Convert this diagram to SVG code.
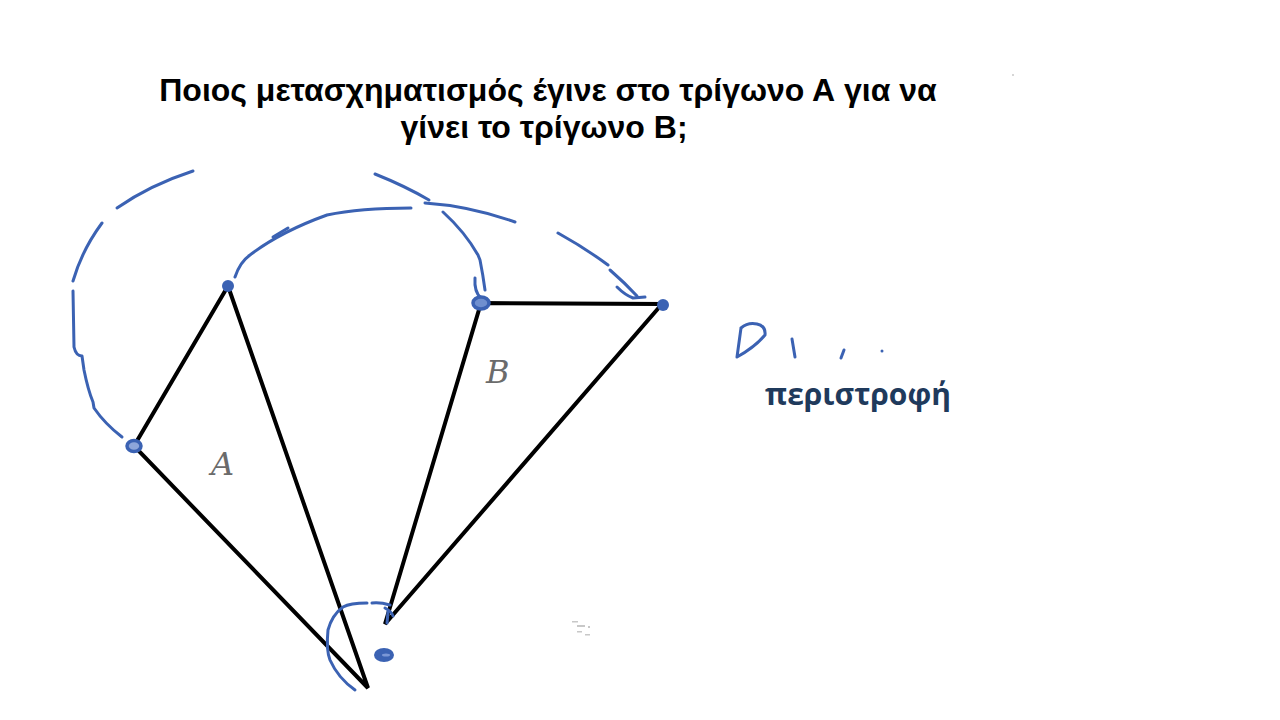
<svg xmlns="http://www.w3.org/2000/svg" width="1280" height="720" viewBox="0 0 1280 720">
<style>
.title{font-family:"Liberation Sans",Arial,sans-serif;font-weight:bold;font-size:32px;fill:#000;text-anchor:middle}
.lbl{font-family:"DejaVu Serif","Liberation Serif",serif;font-style:italic;font-size:32px;fill:#6b6b6b}
.ans{font-family:"Open Sans","Liberation Sans",sans-serif;font-weight:bold;font-size:30px;fill:#1f3a5c}
.tri{fill:none;stroke:#000;stroke-width:4;stroke-linejoin:miter}
.pen{fill:none;stroke:#3b62b3;stroke-width:3;stroke-linecap:round;stroke-linejoin:round}
.dot{fill:#3b62b3}
</style>
<rect width="1280" height="720" fill="#fff"/>
<g id="title">
<text class="title" x="548" y="101">Ποιος μετασχηματισμός έγινε στο τρίγωνο Α για να</text>
<text class="title" x="544" y="138">γίνει το τρίγωνο Β;</text>
</g>
<g id="triangleA">
<polygon class="tri" points="228,286 134,446 368,688"/>
<text class="lbl" x="211" y="475">A</text>
</g>
<g id="triangleB">
<polygon class="tri" points="481,303 662,304 385,624"/>
<text class="lbl" x="486" y="383">B</text>
</g>
<g id="pen-strokes">
<path class="pen" d="M193,171 Q150,185 117,208"/>
<path class="pen" d="M102,223 Q82,250 73,281"/>
<path class="pen" d="M73,291 L74,347 Q76,356 82,356 L84,370 Q88,390 93,402 L94,408 Q105,424 122,437"/>
<path class="pen" d="M235,277 Q240,262 250,255 Q280,232 327,215 Q360,208 411,208"/>
<path class="pen" d="M273,237 L288,228"/>
<path class="pen" d="M375,174 Q405,186 429,200"/>
<path class="pen" d="M425,203 Q470,206 515,222"/>
<path class="pen" d="M443,212 Q465,232 478,255 L480,260 Q483,275 485,290"/>
<path class="pen" d="M475,278 Q474,292 481,298"/>
<path class="pen" d="M558,233 Q585,248 608,265"/>
<path class="pen" d="M610,270 Q625,283 637,296"/>
<path class="pen" d="M617,287 Q625,295 633,298 L645,297"/>
<path class="pen" d="M390,605 Q380,602 372,603"/>
<path class="pen" d="M367,603 Q350,603 343,607 Q332,615 328,630 Q326,650 330,660 Q338,678 355,690"/>
<path class="pen" d="M385,608 Q392,612 393,616"/>
<path class="pen" d="M388,612 L387,623"/>
<path class="pen" stroke-width="2.5" d="M741,328 L737,357 Q755,347 765,335 Q766,326 757,324 Q748,322 741,328"/>
<path class="pen" stroke-width="2.5" d="M792,339 L795,357"/>
<path class="pen" stroke-width="2.5" d="M844,350 L841,358"/>
<circle class="dot" cx="882" cy="351" r="1.5"/>
<ellipse class="dot" cx="228" cy="286" rx="6" ry="6"/>
<ellipse cx="134" cy="446" rx="7" ry="5.5" fill="#8ea6da" stroke="#3b62b3" stroke-width="3.5"/>
<ellipse cx="481" cy="303" rx="8" ry="6" fill="#6f8fcf" stroke="#3b62b3" stroke-width="3.5"/>
<ellipse class="dot" cx="663" cy="305" rx="6" ry="6"/>
<ellipse class="dot" cx="384" cy="655" rx="10" ry="7"/>
<ellipse cx="386" cy="655" rx="4" ry="1.5" fill="#7b97d6"/>
</g>
<g id="marks" fill="#c8c8c8">
<rect x="572" y="621" width="6" height="1.5"/>
<rect x="577" y="625" width="8" height="2"/>
<rect x="588" y="626" width="2" height="2"/>
<rect x="577" y="631" width="5" height="1.5"/>
<rect x="585" y="634" width="5" height="1.5"/>
<circle cx="1013" cy="75" r="1"/>
</g>
<g id="answer">
<text class="ans" x="765" y="405">περιστροφή</text>
</g>
</svg>
